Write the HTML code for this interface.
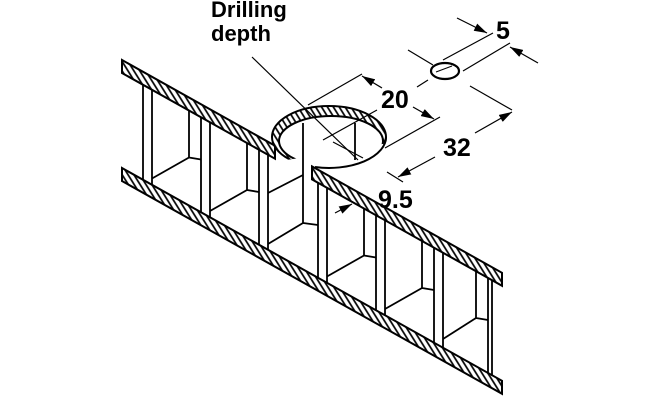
<!DOCTYPE html>
<html><head><style>body{margin:0;background:#fff}svg{display:block}</style></head>
<body>
<svg width="660" height="400" viewBox="0 0 660 400" xmlns="http://www.w3.org/2000/svg">
<defs>
<pattern id="h" patternUnits="userSpaceOnUse" width="5" height="20" patternTransform="rotate(-32)">
<rect width="5" height="20" fill="#fff"/><line x1="1" y1="0" x2="1" y2="20" stroke="#000" stroke-width="1.7"/>
</pattern>
<marker id="a" markerWidth="13" markerHeight="8" refX="13" refY="4" orient="auto" markerUnits="userSpaceOnUse">
<path d="M0,0 L13,4 L0,8 Z" fill="#000"/></marker>
<clipPath id="top"><polygon points="250,60 400,60 400,141 275,162"/></clipPath>
</defs>
<g stroke="#000" stroke-width="1.8" fill="none">
<!-- posts -->
<line x1="143" y1="84.8" x2="143" y2="179.8"/><line x1="152" y1="89.8" x2="152" y2="184.8"/>
<line x1="201" y1="117.2" x2="201" y2="212.2"/><line x1="210" y1="122.3" x2="210" y2="217.3"/>
<line x1="259" y1="149.7" x2="259" y2="244.7"/><line x1="268" y1="154.8" x2="268" y2="249.8"/>
<line x1="318" y1="182.8" x2="318" y2="277.8"/><line x1="327" y1="187.8" x2="327" y2="282.8"/>
<line x1="376" y1="215.2" x2="376" y2="310.2"/><line x1="385" y1="220.3" x2="385" y2="315.3"/>
<line x1="434" y1="247.7" x2="434" y2="342.7"/><line x1="443" y1="252.8" x2="443" y2="347.8"/>
<line x1="488" y1="278" x2="488" y2="373"/><line x1="492" y1="280.2" x2="492" y2="375.2"/>
<!-- cells -->
<polyline points="189,110.5 189,157.5 201,159.5"/><line x1="189" y1="157.5" x2="152" y2="178.5"/>
<polyline points="247,143 247,190 259,192"/><line x1="247" y1="190" x2="210" y2="211"/>
<polyline points="303,123 303,223 318,225"/><line x1="303" y1="223" x2="268" y2="244"/>
<line x1="268" y1="193" x2="303" y2="175"/>
<line x1="355" y1="123" x2="355" y2="160"/>
<polyline points="364,208.5 364,255.5 376,257.5"/><line x1="364" y1="255.5" x2="327" y2="276.5"/>
<polyline points="422,241 422,288 434,290"/><line x1="422" y1="288" x2="385" y2="309"/>
<polyline points="476,271 476,318 488,320"/><line x1="476" y1="318" x2="443" y2="339"/>
</g>
<!-- panels -->
<g stroke="#000" stroke-width="2" fill="url(#h)">
<polygon points="122,60 275,145.7 275,158.7 122,73"/>
<polygon points="312,166.4 502,272.8 502,285.8 312,179.4"/>
<polygon points="122,168 502,380.8 502,393.8 122,181"/>
</g>
<!-- hole -->
<g stroke="#000" stroke-width="2">
<path clip-path="url(#top)" fill="url(#h)" fill-rule="evenodd" d="M272,137 a57,31 0 1,0 114,0 a57,31 0 1,0 -114,0 Z M279,141 a52,25 0 1,0 104,0 a52,25 0 1,0 -104,0 Z"/>
<path d="M386,137 A57,31 0 0,1 315,167" fill="none"/>
<ellipse cx="445" cy="71" rx="14" ry="8" fill="#fff" stroke-width="2.2"/>
<line x1="436" y1="72" x2="452" y2="66" stroke-width="1"/>
</g>
<!-- dimension lines -->
<g stroke="#000" stroke-width="1.2" fill="none">
<line x1="252" y1="57" x2="358" y2="160"/>
<line x1="323" y1="140" x2="377" y2="110"/><line x1="333" y1="142" x2="363" y2="158"/>
<line x1="417" y1="87" x2="428" y2="80"/>
<line x1="408" y1="50" x2="433" y2="65"/>
<line x1="443" y1="60" x2="493" y2="33"/><line x1="463" y1="71" x2="510" y2="43"/>
<line x1="457" y1="18" x2="487" y2="33" marker-end="url(#a)"/>
<line x1="538" y1="63" x2="510" y2="47" marker-end="url(#a)"/>
<line x1="308" y1="105" x2="362" y2="74"/><line x1="385" y1="148" x2="440" y2="117"/>
<line x1="382" y1="88" x2="362" y2="76" marker-end="url(#a)"/>
<line x1="413" y1="107" x2="434" y2="119" marker-end="url(#a)"/>
<line x1="470" y1="86" x2="512" y2="110"/><line x1="387" y1="172" x2="403" y2="182"/>
<line x1="475" y1="133" x2="512" y2="112" marker-end="url(#a)"/>
<line x1="435" y1="157" x2="398" y2="177" marker-end="url(#a)"/>
<line x1="335" y1="213" x2="352" y2="204" marker-end="url(#a)"/>
</g>
<g font-family="Liberation Sans, sans-serif" font-weight="bold" fill="#000">
<text x="211" y="17" font-size="22">Drilling</text>
<text x="211" y="41" font-size="22">depth</text>
<text x="496" y="39" font-size="25">5</text>
<text x="381" y="108" font-size="25">20</text>
<text x="443" y="156" font-size="25">32</text>
<text x="378" y="208" font-size="25">9.5</text>
</g>
</svg>
</body></html>
